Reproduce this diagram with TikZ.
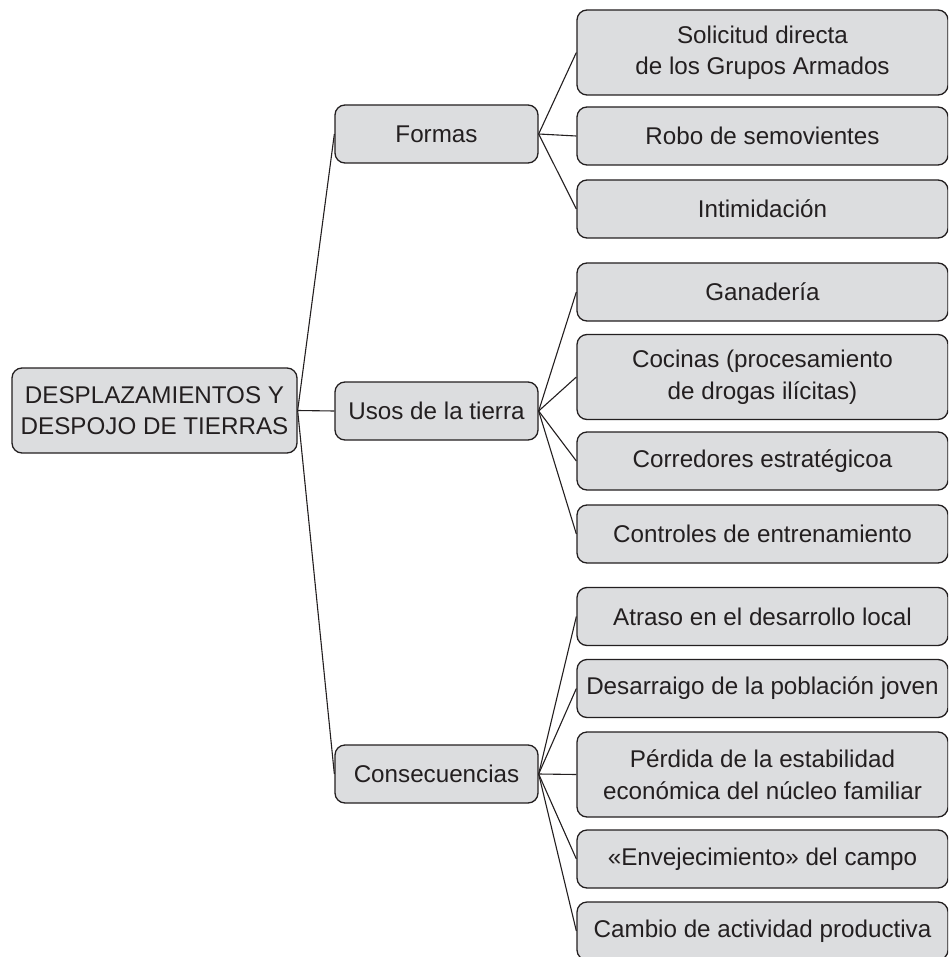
\documentclass[tikz,border=0pt]{standalone}
\usepackage{fontspec}
\setmainfont{Liberation Sans}
\definecolor{boxfill}{HTML}{DCDDDF}
\definecolor{ink}{HTML}{231F20}
\begin{document}
\begin{tikzpicture}[x=1pt,y=-1pt,
  box/.style={draw=ink, line width=1.3pt, fill=boxfill, rounded corners=10pt,
    text=ink, align=center, inner sep=0pt, anchor=center,
    font=\fontsize{24.2}{31.5}\selectfont},
  midbox/.style={box, minimum width=203pt, minimum height=58pt},
  leafa/.style={box, minimum width=371pt, minimum height=58pt},
  leafb/.style={box, minimum width=371pt, minimum height=85pt},
  link/.style={draw=ink, line width=1.1pt}]
\clip (0,0) rectangle (948,957);
\useasboundingbox (0,0) rectangle (948,957);

\node[box, minimum width=285pt, minimum height=85pt] (root) at (154.5,410.5)
  {DESPLAZAMIENTOS Y\\DESPOJO DE TIERRAS};

\node[midbox] (formas) at (436.5,134) {Formas};
\node[midbox] (usos) at (436.5,411) {Usos de la tierra};
\node[midbox] (cons) at (436.5,774) {Consecuencias};

\node[leafb] (f1) at (762.5,52.5) {Solicitud directa\\de los Grupos Armados};
\node[leafa] (f2) at (762.5,136) {Robo de semovientes};
\node[leafa] (f3) at (762.5,209) {Intimidación};

\node[leafa] (u1) at (762.5,292) {Ganadería};
\node[leafb] (u2) at (762.5,377) {Cocinas (procesamiento\\de drogas ilícitas)};
\node[leafa] (u3) at (762.5,461) {Corredores estratégicoa};
\node[leafa] (u4) at (762.5,534) {Controles de entrenamiento};

\node[leafa] (c1) at (762.5,616.5) {Atraso en el desarrollo local};
\node[leafa] (c2) at (762.5,688.5) {Desarraigo de la población joven};
\node[leafb] (c3) at (762.5,774.5) {Pérdida de la estabilidad\\económica del núcleo familiar};
\node[leafa] (c4) at (762.5,859) {«Envejecimiento» del campo};
\node[leafa] (c5) at (762.5,931) {Cambio de actividad productiva};

\foreach \m in {formas,usos,cons} \path[link] (root.east) -- (\m.west);
\foreach \l in {f1,f2,f3} \path[link] (formas.east) -- (\l.west);
\foreach \l in {u1,u2,u3,u4} \path[link] (usos.east) -- (\l.west);
\foreach \l in {c1,c2,c3,c4,c5} \path[link] (cons.east) -- (\l.west);
\end{tikzpicture}
\end{document}
